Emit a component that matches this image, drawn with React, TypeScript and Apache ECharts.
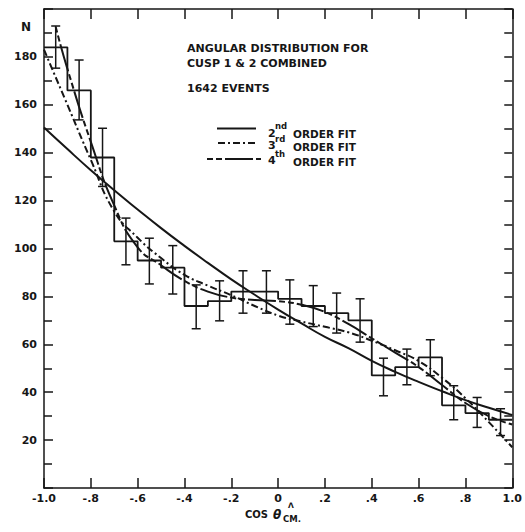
import React, { useEffect, useRef } from "react";
import * as echarts from "echarts";

// Histogram bin edges (cos theta) and counts per bin
const binEdges = [-1.0, -0.9, -0.8, -0.7, -0.6, -0.5, -0.4, -0.3, -0.2, -0.1, 0.0, 0.1, 0.2, 0.3, 0.4, 0.5, 0.6, 0.7, 0.8, 0.9, 1.0];
const binValues = [184, 166, 138, 103, 95, 92, 76, 78, 82, 82, 79, 76, 73, 70, 47, 50.5, 54.5, 34.5, 31.3, 28.5];
// Error bar limits per bin
const errLow = [175.3, 153.7, 125.9, 93.2, 85.2, 81, 66.5, 69.8, 73, 73, 68.4, 67.4, 64.7, 60.9, 38.5, 43.1, 46.9, 28.5, 25.3, 21.9];
const errHigh = [192.9, 178.7, 150.2, 112.7, 104.3, 101.2, 84.8, 86.5, 90.7, 90.7, 86.9, 84.5, 81.4, 79, 54.2, 58, 61.9, 42.7, 37.8, 33.1];

// Fit curves
const fitX = [-1.0, -0.9, -0.8, -0.7, -0.6, -0.5, -0.4, -0.3, -0.2, -0.1, 0.0, 0.1, 0.2, 0.3, 0.4, 0.5, 0.6, 0.7, 0.8, 0.9, 1.0];
const fit2nd = [150.5, 141.5, 132.7, 124.3, 116.3, 108.5, 101.1, 94, 87.1, 80.7, 74.5, 68.7, 63.1, 58.4, 53.1, 48.5, 44.3, 40.4, 36.7, 33.5, 30.5];
const fit3rd = [183, 160, 137, 115.5, 104.5, 96, 89, 84.5, 80.5, 76, 72, 69.5, 67.3, 65, 61.5, 57.5, 53, 46, 37.5, 27.5, 17];
const fit4thX = [-0.95, -0.9, -0.8, -0.7, -0.6, -0.5, -0.4, -0.3, -0.2, -0.1, 0.0, 0.1, 0.2, 0.3, 0.4, 0.5, 0.6, 0.7, 0.8, 0.9, 1.0];
const fit4th = [192.5, 175, 144.5, 118, 100.5, 93, 86.5, 82, 79.5, 78.5, 78, 76.5, 73.5, 68.5, 62.5, 56.5, 50.5, 43, 35.5, 30, 26.5];

const xTickLabels = ["-1.0", "-.8", "-.6", "-.4", "-.2", "0", ".2", ".4", ".6", ".8", "1.0"];
const yTickLabels = ["", "20", "40", "60", "80", "100", "120", "140", "160", "180", ""];

const INK = "#161616";
const FONT = "DejaVu Sans";
const DASH3 = [7, 3, 2, 3];
const DASH4 = [6, 3, 6, 3, 28, 3];

export default function App() {
  const ref = useRef<HTMLDivElement>(null);
  useEffect(() => {
    if (!ref.current) return;
    const chart = echarts.init(ref.current, null, { renderer: "svg" });

    const histData: number[][] = binValues.map((v, i) => [binEdges[i], v]);
    histData.push([binEdges[binEdges.length - 1], binValues[binValues.length - 1]]);
    const errData = binValues.map((_, i) => [
      (binEdges[i] + binEdges[i + 1]) / 2,
      errLow[i],
      errHigh[i],
    ]);

    const axisLine = { show: true, onZero: false, lineStyle: { color: INK, width: 1.5 } };
    const tickStyle = { color: INK, width: 1.5 };
    const txt = (text: string, x: number, y: number, size: number, extra: any = {}) => ({
      type: "text",
      x,
      y,
      style: {
        text,
        fill: INK,
        font: `bold ${size}px "${FONT}"`,
        textVerticalAlign: "middle",
        textAlign: "left",
        ...extra,
      },
    });

    chart.setOption({
      animation: false,
      backgroundColor: "#ffffff",
      grid: { left: 44, right: 6, top: 9, bottom: 44 },
      xAxis: [
        {
          type: "value",
          min: -1,
          max: 1,
          interval: 0.2,
          position: "bottom",
          axisLine,
          axisTick: { show: true, inside: true, length: 10, lineStyle: tickStyle },
          axisLabel: {
            margin: 5,
            color: INK,
            fontSize: 11,
            fontWeight: "bold",
            fontFamily: FONT,
            formatter: (v: number) => xTickLabels[Math.round((v + 1) / 0.2)] ?? "",
          },
          splitLine: { show: false },
        },
        {
          type: "value",
          min: -1,
          max: 1,
          interval: 0.2,
          position: "top",
          axisLine,
          axisTick: { show: true, inside: true, length: 10, lineStyle: tickStyle },
          axisLabel: { show: false },
          splitLine: { show: false },
        },
      ],
      yAxis: [
        {
          type: "value",
          min: 0,
          max: 200,
          interval: 20,
          position: "left",
          axisLine,
          axisTick: { show: true, inside: true, length: 9, lineStyle: tickStyle },
          minorTick: { show: true, splitNumber: 2, length: 8, lineStyle: tickStyle },
          axisLabel: {
            margin: 7,
            color: INK,
            fontSize: 11,
            fontWeight: "bold",
            fontFamily: FONT,
            formatter: (v: number) => yTickLabels[Math.round(v / 20)] ?? "",
          },
          splitLine: { show: false },
        },
        {
          type: "value",
          min: 0,
          max: 200,
          interval: 10,
          position: "right",
          axisLine,
          axisTick: { show: true, inside: true, length: 8, lineStyle: tickStyle },
          axisLabel: { show: false },
          splitLine: { show: false },
        },
      ],
      series: [
        {
          type: "line",
          name: "histogram",
          data: histData,
          step: "end",
          showSymbol: false,
          lineStyle: { color: INK, width: 1.8 },
        },
        {
          type: "custom",
          name: "errors",
          data: errData,
          encode: { x: 0, y: [1, 2] },
          renderItem: (params: any, api: any) => {
            const x = api.value(0);
            const a = api.coord([x, api.value(2)]);
            const b = api.coord([x, api.value(1)]);
            const w = 4.5;
            const style = { stroke: INK, lineWidth: 1.5 };
            return {
              type: "group",
              children: [
                { type: "line", shape: { x1: a[0], y1: a[1], x2: b[0], y2: b[1] }, style },
                { type: "line", shape: { x1: a[0] - w, y1: a[1], x2: a[0] + w, y2: a[1] }, style },
                { type: "line", shape: { x1: b[0] - w, y1: b[1], x2: b[0] + w, y2: b[1] }, style },
              ],
            };
          },
        },
        {
          type: "line",
          name: "2nd order fit",
          data: fitX.map((x, i) => [x, fit2nd[i]]),
          smooth: true,
          showSymbol: false,
          lineStyle: { color: INK, width: 2 },
        },
        {
          type: "line",
          name: "3rd order fit",
          data: fitX.map((x, i) => [x, fit3rd[i]]),
          smooth: true,
          showSymbol: false,
          lineStyle: { color: INK, width: 2, type: DASH3 },
        },
        {
          type: "line",
          name: "4th order fit",
          data: fit4thX.map((x, i) => [x, fit4th[i]]),
          smooth: true,
          showSymbol: false,
          lineStyle: { color: INK, width: 2, type: DASH4 },
        },
      ],
      graphic: [
        txt("N", 21, 27, 12),
        txt("ANGULAR DISTRIBUTION FOR", 187, 48, 11),
        txt("CUSP 1 & 2 COMBINED", 187, 63, 11),
        txt("1642 EVENTS", 187, 88, 11),
        { type: "line", shape: { x1: 217, y1: 128.5, x2: 256, y2: 128.5 }, style: { stroke: INK, lineWidth: 2 } },
        { type: "line", shape: { x1: 218, y1: 143, x2: 255, y2: 143 }, style: { stroke: INK, lineWidth: 2, lineDash: DASH3 } },
        { type: "line", shape: { x1: 207, y1: 159, x2: 261, y2: 159 }, style: { stroke: INK, lineWidth: 2, lineDash: DASH4 } },
        txt("2", 268, 133, 11),
        txt("nd", 275, 125.5, 8.5),
        txt("ORDER FIT", 293, 134, 10.5),
        txt("3", 268, 145.5, 11),
        txt("rd", 275, 139, 8.5),
        txt("ORDER FIT", 293, 146.5, 10.5),
        txt("4", 268, 160.5, 11),
        txt("th", 275, 154, 8.5),
        txt("ORDER FIT", 293, 161.5, 10.5),
        txt("COS", 245, 514.5, 10),
        { type: "text", x: 273, y: 514.5, style: { text: "θ", fill: INK, font: `italic bold 12px "${FONT}"`, textVerticalAlign: "middle" } },
        txt("Λ", 288, 505, 7.5),
        txt("CM.", 283, 518.5, 8.5),
      ],
    });
    return () => chart.dispose();
  }, []);
  return (
    <div
      ref={ref}
      style={{ position: "absolute", left: 0, top: 0, width: 525, height: 532, background: "#fff" }}
    />
  );
}
